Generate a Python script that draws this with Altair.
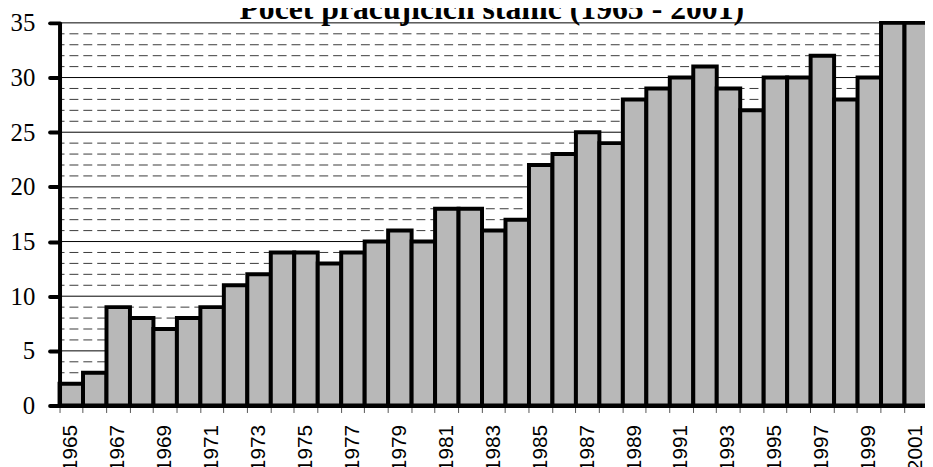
import altair as alt
import pandas as pd

TITLE = "Počet pracujících stanic (1965 - 2001)"
years = list(range(1965, 2002))
values = [2, 3, 9, 8, 7, 8, 9, 11, 12, 14, 14, 13, 14, 15, 16, 15, 18, 18, 16, 17,
          22, 23, 25, 24, 28, 29, 30, 31, 29, 27, 30, 30, 32, 28, 30, 35, 35]
y_ticks = [0, 5, 10, 15, 20, 25, 30, 35]
minor_lines = [1, 2, 3, 4, 6, 7, 8, 9, 11, 12, 13, 14, 16, 17, 18, 19, 21, 22, 23, 24,
               26, 27, 28, 29, 31, 32, 33, 34]

df = pd.DataFrame({"year": years, "count": values})
major_df = pd.DataFrame({"count": y_ticks})
minor_df = pd.DataFrame({"count": minor_lines})
title_df = pd.DataFrame({"t": [TITLE]})

W = 873
H = 386
STEP_RANGE = 876

yscale = alt.Scale(domain=[0, 35], nice=False, zero=True)
xscale = alt.Scale(paddingInner=0, paddingOuter=0, range=[0, STEP_RANGE])

yaxis = alt.Axis(
    title=None,
    values=y_ticks,
    grid=False,
    tickSize=10,
    tickWidth=4,
    tickColor="black",
    tickCap="round",
    domainColor="black",
    domainWidth=4,
    labelFont="Liberation Serif",
    labelFontSize=25,
    labelColor="black",
    labelPadding=15,
    zindex=1,
)

minor = alt.Chart(minor_df).mark_rule(
    color="#3a3a3a", strokeWidth=1, strokeDash=[9, 5]
).encode(y=alt.Y("count:Q", scale=yscale, axis=yaxis))

major = alt.Chart(major_df).mark_rule(
    color="black", strokeWidth=1
).encode(y=alt.Y("count:Q", scale=yscale, axis=yaxis))

bars = alt.Chart(df).mark_bar(
    fill="#b8b8b8", stroke="black", strokeWidth=4, strokeJoin="miter"
).encode(
    x=alt.X(
        "year:O",
        scale=xscale,
        axis=alt.Axis(
            title=None,
            bandPosition=0,
            labelAngle=270,
            labelExpr="datum.value % 2 == 1 ? datum.label : ''",
            labelOverlap=False,
            labelFont="Liberation Sans",
            labelFontSize=21,
            labelColor="black",
            labelPadding=12,
            tickSize=7,
            tickColor="#555555",
            tickWidth=1,
            domainColor="black",
            domainWidth=4,
            zindex=1,
        ),
    ),
    y=alt.Y("count:Q", scale=yscale, axis=yaxis),
)

title = alt.Chart(title_df).mark_text(
    font="Liberation Serif", fontSize=32, fontWeight="bold", color="black",
    align="center", baseline="alphabetic"
).encode(text="t:N", x=alt.value(436), y=alt.value(-4))

chart = alt.layer(minor, major, bars, title).properties(
    width=W,
    height=H,
    autosize=alt.AutoSizeParams(type="none"),
    padding={"left": 52, "top": 13, "right": 0, "bottom": 60},
).configure_view(stroke=None).configure_axisY(
    labelFont="Liberation Serif", labelFontSize=25, labelColor="black"
).configure_axisX(
    labelFont="Liberation Sans", labelFontSize=21, labelColor="black"
)

chart.save("out.html", embed_options={"renderer": "svg", "actions": False})
